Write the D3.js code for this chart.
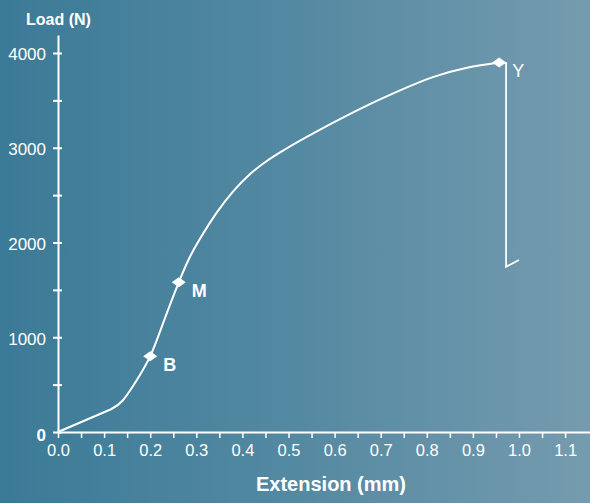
<!DOCTYPE html>
<html>
<head>
<meta charset="utf-8">
<script src="https://cdn.jsdelivr.net/npm/d3@7"></script>
<style>
  html, body { margin: 0; padding: 0; }
  body { width: 590px; height: 503px; overflow: hidden; }
  text { font-family: "Liberation Sans", Arial, sans-serif; fill: #fff; }
</style>
</head>
<body>
<div id="chart"></div>
<script>
var svgWidth = 590;
var svgHeight = 503;

// extension (mm) and load (N)
var extension = [0, 0.115, 0.14, 0.17, 0.2, 0.228, 0.262, 0.286, 0.308, 0.345, 0.38, 0.415, 0.453, 0.49, 0.525, 0.597, 0.67, 0.742, 0.813, 0.887, 0.957];
var load = [0, 240, 330, 540, 800, 1150, 1580, 1847, 2040, 2320, 2540, 2715, 2860, 2975, 3075, 3265, 3445, 3605, 3745, 3845, 3900];

// fracture part after the peak
var breakExt = [0.957, 0.972, 0.972, 1.0];
var breakLoad = [3900, 3894, 1745, 1815];

// marked points
var markNames = ["B", "M", "Y"];
var markExt = [0.2, 0.262, 0.957];
var markLoad = [800, 1580, 3900];

var xTicks = d3.range(0, 23).map(i => i * 0.05);
var yTicks = d3.range(0, 9).map(i => i * 500);

var svg = d3.select("#chart")
    .append("svg")
    .attr("width", svgWidth)
    .attr("height", svgHeight);

// background gradient
var grad = svg.append("defs").append("linearGradient")
    .attr("id", "bg")
    .attr("x1", "0").attr("y1", "0").attr("x2", "1").attr("y2", "0");
grad.append("stop").attr("offset", "0").attr("stop-color", "#3b7a97");
grad.append("stop").attr("offset", "0.5").attr("stop-color", "#5489a2");
grad.append("stop").attr("offset", "1").attr("stop-color", "#759bae");

svg.append("rect")
    .attr("width", svgWidth)
    .attr("height", svgHeight)
    .attr("fill", "url(#bg)");

var x = d3.scaleLinear()
    .domain([0, 1.154])
    .range([58, 590]);

var y = d3.scaleLinear()
    .domain([0, 4190])
    .range([432, 35]);

// x axis
var xAxis = svg.append("g")
    .attr("transform", "translate(0, 432)")
    .call(d3.axisBottom(x)
        .tickValues(xTicks)
        .tickSize(6)
        .tickSizeOuter(0)
        .tickFormat(d => (Math.round(d * 100) % 10 === 0) ? d3.format(".1f")(d) : ""));

xAxis.select(".domain").attr("stroke", "#fff").attr("stroke-width", 2);
xAxis.selectAll(".tick line").attr("stroke", "#fff").attr("stroke-width", 1.5);
xAxis.selectAll(".tick text")
    .attr("y", 12)
    .attr("dy", "0.71em")
    .style("font-size", "16.5px")
    .style("fill", "#fff");

// y axis
var yAxis = svg.append("g")
    .attr("transform", "translate(58, 0)")
    .call(d3.axisLeft(y)
        .tickValues(yTicks)
        .tickSize(5)
        .tickSizeOuter(0)
        .tickFormat(d => (d % 1000 === 0 && d > 0) ? d : ""));

yAxis.select(".domain").attr("stroke", "#fff").attr("stroke-width", 2);
yAxis.selectAll(".tick line")
    .attr("x1", 4)
    .attr("stroke", "#fff")
    .attr("stroke-width", 2);
yAxis.selectAll(".tick text")
    .attr("x", -12)
    .attr("dy", "0.4em")
    .style("font-size", "17px")
    .style("fill", "#fff");

// zero label, bold
svg.append("text")
    .attr("x", 46)
    .attr("y", y(0) + 9)
    .attr("text-anchor", "end")
    .attr("font-weight", "bold")
    .attr("font-size", "17px")
    .text("0");

// axis titles
svg.append("text")
    .attr("x", 26)
    .attr("y", 25)
    .attr("font-weight", "bold")
    .attr("font-size", "16px")
    .text("Load (N)");

svg.append("text")
    .attr("x", 331)
    .attr("y", 491)
    .attr("text-anchor", "middle")
    .attr("font-weight", "bold")
    .attr("font-size", "20px")
    .text("Extension (mm)");

// main curve: straight toe, then smooth
var curveData = extension.map((e, i) => [e, load[i]]);

svg.append("path")
    .datum(curveData.slice(0, 2))
    .attr("d", d3.line().x(d => x(d[0])).y(d => y(d[1])))
    .attr("fill", "none")
    .attr("stroke", "#fff")
    .attr("stroke-width", 2);

svg.append("path")
    .datum(curveData.slice(1))
    .attr("d", d3.line()
        .x(d => x(d[0]))
        .y(d => y(d[1]))
        .curve(d3.curveNatural))
    .attr("fill", "none")
    .attr("stroke", "#fff")
    .attr("stroke-width", 2);

// the break
var breakData = breakExt.map((e, i) => [e, breakLoad[i]]);
svg.append("path")
    .datum(breakData)
    .attr("d", d3.line().x(d => x(d[0])).y(d => y(d[1])))
    .attr("fill", "none")
    .attr("stroke", "#fff")
    .attr("stroke-width", 1.8);

// markers
var marks = markNames.map((n, i) => ({ name: n, ext: markExt[i], load: markLoad[i] }));

svg.selectAll(".mark")
    .data(marks)
    .enter()
    .append("path")
    .attr("class", "mark")
    .attr("transform", d => `translate(${x(d.ext)}, ${y(d.load)})`)
    .attr("d", "M-7,0 L0,-5 L7,0 L0,5 Z")
    .attr("fill", "#fff");

svg.selectAll(".markLabel")
    .data(marks)
    .enter()
    .append("text")
    .attr("class", "markLabel")
    .attr("x", d => x(d.ext) + 13)
    .attr("y", d => y(d.load) + 15)
    .attr("font-weight", d => d.name === "Y" ? "normal" : "bold")
    .attr("font-size", "18px")
    .text(d => d.name);
</script>
</body>
</html>
